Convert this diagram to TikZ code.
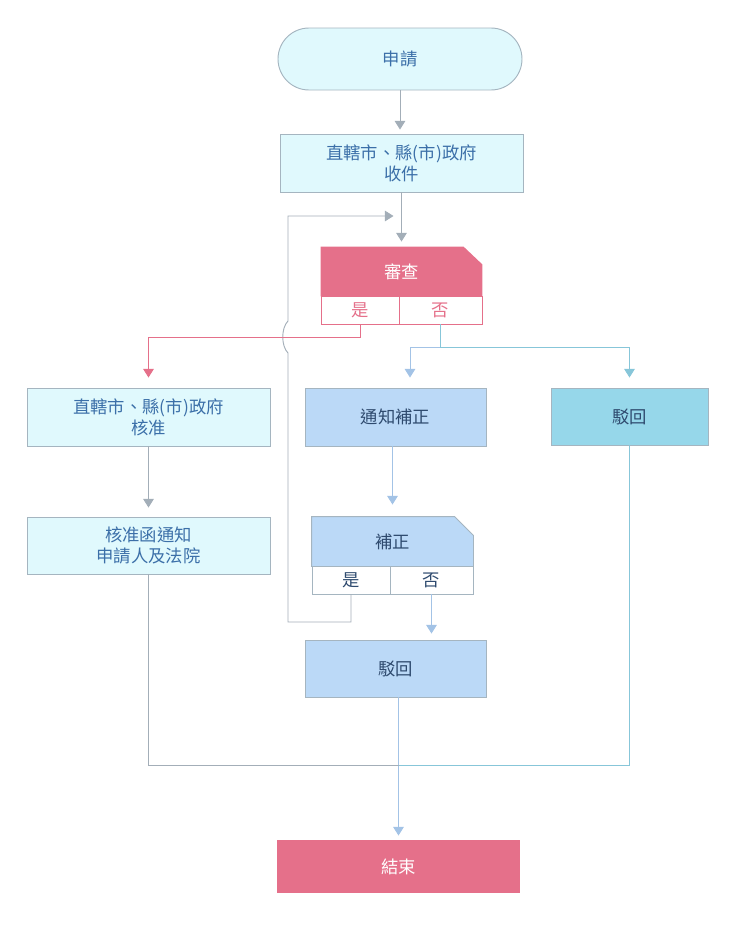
\documentclass[tikz,border=0pt]{standalone}
\usepackage{fontspec}
\setmainfont{Noto Sans CJK TC}
\usetikzlibrary{arrows.meta,calc}
\newlength\pxu
\setlength\pxu{0.75pt}
\definecolor{pk}{HTML}{E5708A}
\definecolor{cyfill}{HTML}{E0F9FD}
\definecolor{bord}{HTML}{A5B5C0}
\definecolor{txtb}{HTML}{3B6FA8}
\definecolor{txtd}{HTML}{2E4A6E}
\definecolor{blfill}{HTML}{BBD9F7}
\definecolor{tlfill}{HTML}{96D7EA}
\definecolor{gline}{HTML}{A3AEB8}
\definecolor{tline}{HTML}{87C6D9}
\definecolor{bline}{HTML}{A3C3E6}
\tikzset{
  txt/.style={font=\fontsize{13}{15.5}\selectfont},
  base/.style={draw=bord, line width=0.7pt, inner sep=0pt, align=center, txt},
  cybox/.style={base, fill=cyfill, text=txtb},
  blbox/.style={base, fill=blfill, text=txtd},
  tlbox/.style={base, fill=tlfill, text=txtd},
  endbox/.style={base, draw=none, fill=pk, text=white},
  cell/.style={base, fill=white},
  conn/.style={line width=0.7pt},
  tip/.style={-{Triangle[width=8pt,length=6.5pt]}},
}
\begin{document}
\begin{tikzpicture}[x=0.75pt,y=-0.75pt]
\path[use as bounding box] (0,0) rectangle (740,929);

% nodes
\node[cybox, rounded corners=31\pxu, minimum width=244\pxu, minimum height=62\pxu] (apply) at (400,59) {申請};
\node[cybox, minimum width=243\pxu, minimum height=58\pxu] (recv) at (401.5,163) {直轄市、縣(市)政府\\收件};

\node[base, draw=none, minimum width=161\pxu, minimum height=49\pxu] (rev) at (401.5,271.5) {};
\fill[pk] (rev.south west) -- (rev.north west) -- ($(rev.north east)+(-19,0)$) -- ($(rev.north east)+(0,18)$) -- (rev.south east) -- cycle;
\node[text=white, txt] at (rev.center) {審查};
\node[cell, draw=pk, text=pk, minimum width=78\pxu, minimum height=28\pxu] (revy) at (360,310) {是};
\node[cell, draw=pk, text=pk, minimum width=83\pxu, minimum height=28\pxu] (revn) at (440.5,310) {否};

\node[cybox, minimum width=243\pxu, minimum height=58\pxu] (approve) at (148.5,417) {直轄市、縣(市)政府\\核准};
\node[cybox, minimum width=243\pxu, minimum height=57\pxu] (notify) at (148.5,545.5) {核准函通知\\申請人及法院};
\node[blbox, minimum width=181\pxu, minimum height=58\pxu] (fix) at (395.5,417) {通知補正};
\node[tlbox, minimum width=157\pxu, minimum height=57\pxu] (rejR) at (629.5,416.5) {駁回};

\node[base, draw=none, minimum width=161\pxu, minimum height=49\pxu] (supp) at (392.5,541.5) {};
\filldraw[fill=blfill, draw=bord, line width=0.7pt] (supp.south west) -- (supp.north west) -- ($(supp.north east)+(-19,0)$) -- ($(supp.north east)+(0,19)$) -- (supp.south east) -- cycle;
\node[text=txtd, txt] at (supp.center) {補正};
\node[cell, text=txtd, minimum width=78\pxu, minimum height=28\pxu] (suppy) at (351,580) {是};
\node[cell, text=txtd, minimum width=83\pxu, minimum height=28\pxu] (suppn) at (431.5,580) {否};

\node[blbox, minimum width=181\pxu, minimum height=57\pxu] (rejM) at (395.5,668.5) {駁回};
\node[endbox, minimum width=243\pxu, minimum height=53\pxu] (end) at (398.5,866.5) {結束};

% helper coordinates
\coordinate (pj) at (150,337);
\coordinate (bj) at (440,347);
\coordinate (fixin) at ($(fix.north)+(14.5,0)$);
\coordinate (mj) at (400,765);
\coordinate (lp1) at (288,622);
\coordinate (lp2) at (288,216);

% connectors
\draw[conn, tip, gline, shorten >=4\pxu] (apply.south) -- (apply.south |- recv.north);
\draw[conn, tip, gline, shorten >=5\pxu] (recv.south) -- (rev.north);
\draw[conn, tip, gline, shorten >=8\pxu] (suppy.south) |- (lp1) -- (288,353)
   .. controls (281,346) and (281,328) .. (288,321) -- (lp2) -- (lp2 -| recv.south);
\draw[conn, tip, pk, shorten >=10\pxu] (revy.south) |- (approve.north |- pj) -- (approve.north);
\draw[conn, tip, bline, shorten >=10\pxu] (revn.south) |- (fixin |- bj) -- (fixin);
\draw[conn, tip, tline, shorten >=10\pxu] (revn.south) |- (rejR.north |- bj) -- (rejR.north);
\draw[conn, tip, gline, shorten >=9\pxu] (approve.south) -- (notify.north);
\draw[conn, tip, bline, shorten >=12\pxu] (supp.north |- fix.south) -- (supp.north);
\draw[conn, tip, bline, shorten >=6\pxu] (suppn.south) -- (suppn.south |- rejM.north);
\draw[conn, tip, bline, shorten >=4\pxu] (end.north |- rejM.south) -- (end.north);
\draw[conn, gline] (notify.south) |- (end.north |- mj);
\draw[conn, tline] (rejR.south) |- (end.north |- mj);
\end{tikzpicture}
\end{document}
